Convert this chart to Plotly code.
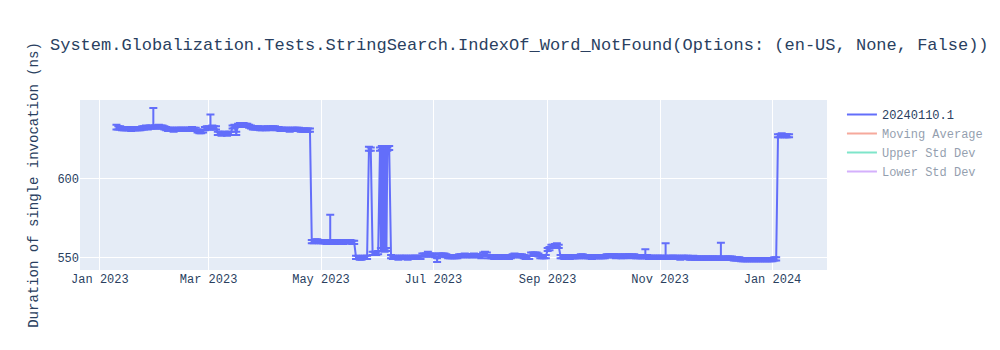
import plotly.graph_objects as go
import pandas as pd

series_name = "20240110.1"
title_text = "System.Globalization.Tests.StringSearch.IndexOf_Word_NotFound(Options: (en-US, None, False))"
y_title = "Duration of single invocation (ns)"

# Daily values, one list per month; each list starts at the day given in month_starts
jan_2023 = [632, 632, 632, 631.5, 631.5, 631.5, 631.5, 631.5, 631, 631.5, 631.5, 631.5, 631.5, 631.5,
            632, 632, 632.5, 632, 632.5, 632.5, 632.5, 632.5]
feb_2023 = [632.5, 633, 632.5, 632.5, 632, 631.5, 631, 631, 631, 630.5, 631, 631, 631, 631, 631, 631,
            631, 631, 631, 631.5, 631, 631, 630, 629.5, 629.5, 630, 631.5, 632]
mar_2023 = [632, 632, 632.5, 632, 632, 628.5, 628.5, 628, 628.5, 628.5, 628, 628.5, 628.5, 632.5, 633,
            628.5, 633.5, 634, 634, 634, 633.5, 633.5, 633, 632.5, 632, 632, 632, 632, 631.5, 631.5, 632]
apr_2023 = [631.5, 632, 631.5, 632, 632, 632, 631.5, 631.5, 631, 631, 631, 631, 631, 630.5, 631, 631,
            631, 631, 631, 630.5, 630.5, 630.5, 630.5, 630.5, 630.5, 560, 560, 560.5, 560.5, 560]
may_2023 = [560, 560, 560, 559.5, 560, 560, 560, 559.5, 559.5, 560, 560, 560, 559.5, 560, 560, 560,
            560, 559.5, 559.5, 550, 550, 549.5, 549.5, 550, 550, 550, 618.5, 618.5, 552.5, 552.5, 552.5]
jun_2023 = [553, 618.5, 619, 618.5, 619, 618.5, 619, 550.5, 550, 550, 550, 549.5, 550, 550, 550, 550,
            549.5, 550, 550, 550, 550, 550, 550, 550, 551.5, 551.5, 551.5, 552, 551.5, 551.5]
jul_2023 = [551.5, 551, 548.5, 551.5, 551.5, 551.5, 551.5, 551, 550.5, 550.5, 550.5, 550.5, 550.5, 550.5,
            551, 551, 551, 551.5, 551, 551, 551, 551, 551.5, 551, 551, 551, 550.5, 552, 552, 552, 550.5]
aug_2023 = [550.5, 550.5, 550, 550.5, 550.5, 550, 550.5, 550.5, 550.5, 550, 550, 550.5, 551, 551.5, 551,
            551, 551, 551, 550.5, 550, 550, 550, 552, 552, 552, 552, 551.5, 550.5, 550.5, 550.5, 550.5]
sep_2023 = [555, 555.5, 557, 557, 557.5, 557.5, 557, 550.5, 550.5, 550, 550.5, 550.5, 550, 550.5, 550.5,
            550.5, 550.5, 550.5, 551, 551, 550.5, 550.5, 550.5, 550.5, 550, 550.5, 550.5, 550.5, 550.5, 550.5]
oct_2023 = [550.5, 550.5, 551, 551, 551, 551, 551, 550.5, 551, 551, 550.5, 550.5, 551, 551, 551, 550.5,
            551, 551, 550.5, 550.5, 550.5, 550.5, 550.5, 550.5, 550.5, 550, 550, 550, 550, 550, 550]
nov_2023 = [550, 550, 550, 550, 550, 550, 550, 550, 550, 550, 550, 549.5, 550, 550, 550, 550, 549.5,
            549.5, 550, 549.5, 549.5, 549.5, 549.5, 549.5, 549.5, 549.5, 549.5, 549.5, 549.5, 549.5]
dec_2023 = [549.5, 549.5, 549.5, 549.5, 549.5, 549.5, 549.5, 549.5, 549.5, 549.5, 549, 549, 549, 549,
            548.5, 548.5, 548.5, 548.5, 548.5, 548.5, 548.5, 548.5, 548.5, 548.5, 548.5, 548.5, 548.5,
            548.5, 548.5, 548.5, 548.5]
jan_2024 = [548.5, 549, 549, 627, 627, 627.5, 627, 627, 627, 627]

month_starts = ["2023-01-10", "2023-02-01", "2023-03-01", "2023-04-01", "2023-05-01", "2023-06-01",
                "2023-07-01", "2023-08-01", "2023-09-01", "2023-10-01", "2023-11-01", "2023-12-01",
                "2024-01-01"]
month_values = [jan_2023, feb_2023, mar_2023, apr_2023, may_2023, jun_2023, jul_2023, aug_2023,
                sep_2023, oct_2023, nov_2023, dec_2023, jan_2024]

# Extra intra-day runs during the unstable period in early June
extra_dates = ["2023-06-02 12:00", "2023-06-03 12:00", "2023-06-04 12:00", "2023-06-05 12:00"]
extra_values = [555, 555, 554.5, 555]

# Error bars: default spread, with larger upper/lower deviations on a few days
err_default = 1.0
spike_dates = ["2023-01-10", "2023-01-30", "2023-03-02", "2023-05-06", "2023-05-27", "2023-06-03",
               "2023-06-05", "2023-06-07", "2023-06-28", "2023-07-29", "2023-09-06", "2023-10-24",
               "2023-11-04", "2023-12-04"]
spike_err_plus = [2, 12, 8.5, 17, 1.5, 1.5, 1.5, 1.5, 1.5, 1.5, 1.5, 4.7, 9, 9.7]
dip_dates = ["2023-07-03"]
dip_err_minus = [1.5]

x_range = ["2022-12-21 05:00", "2024-01-30 14:00"]
y_range = [542.0, 649.6]

# ---- assemble ----
rows = []
for start, vals in zip(month_starts, month_values):
    t0 = pd.Timestamp(start)
    for i, v in enumerate(vals):
        rows.append((t0 + pd.Timedelta(days=i), v))
for d, v in zip(extra_dates, extra_values):
    rows.append((pd.Timestamp(d), v))
df = pd.DataFrame(rows, columns=["date", "value"]).sort_values("date").reset_index(drop=True)

plus_map = {pd.Timestamp(d): e for d, e in zip(spike_dates, spike_err_plus)}
minus_map = {pd.Timestamp(d): e for d, e in zip(dip_dates, dip_err_minus)}
df["err_plus"] = [plus_map.get(d, err_default) for d in df["date"]]
df["err_minus"] = [minus_map.get(d, err_default) for d in df["date"]]
df["moving_avg"] = df["value"].rolling(5, min_periods=1).mean()
df["upper"] = df["value"] + df["err_plus"]
df["lower"] = df["value"] - df["err_minus"]

fig = go.Figure()
fig.add_trace(go.Scatter(
    x=df["date"], y=df["value"], mode="lines", name=series_name,
    line=dict(color="#636efa", width=2),
    error_y=dict(type="data", symmetric=False, array=df["err_plus"], arrayminus=df["err_minus"],
                 color="#636efa", thickness=2, width=4),
))
fig.add_trace(go.Scatter(x=df["date"], y=df["moving_avg"], mode="lines", name="Moving Average",
                         line=dict(color="#EF553B"), visible="legendonly"))
fig.add_trace(go.Scatter(x=df["date"], y=df["upper"], mode="lines", name="Upper Std Dev",
                         line=dict(color="#00cc96"), visible="legendonly"))
fig.add_trace(go.Scatter(x=df["date"], y=df["lower"], mode="lines", name="Lower Std Dev",
                         line=dict(color="#ab63fa"), visible="legendonly"))

fig.update_layout(
    template="plotly",
    width=1000, height=350,
    font=dict(family="Courier New, Courier, FreeMono, Nimbus Mono PS, monospace"),
    title=dict(text=title_text),
    yaxis=dict(title=dict(text=y_title), range=y_range),
    xaxis=dict(range=x_range),
)

fig.write_html("out.html")
